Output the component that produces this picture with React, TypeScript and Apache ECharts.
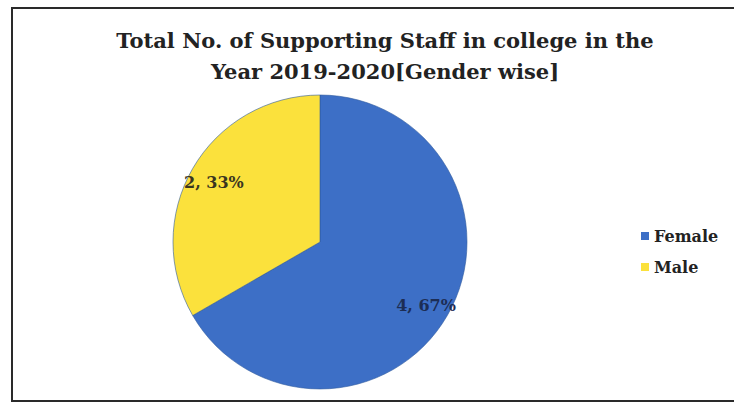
import React, { useEffect, useRef } from "react";
import * as echarts from "echarts";

const categories = ["Female", "Male"];
const counts = [4, 2];
const percents = ["67%", "33%"];
const colors = ["#3d6fc6", "#fbe13c"];
const titleLines = ["Total No. of Supporting Staff in college in the", "Year 2019-2020[Gender wise]"];

export default function App() {
  const ref = useRef<HTMLDivElement>(null);
  useEffect(() => {
    if (!ref.current) return;
    const chart = echarts.init(ref.current, undefined, { renderer: "svg" });
    const data = categories.map((name, i) => ({
      name,
      value: counts[i],
      itemStyle: { color: colors[i] },
    }));
    const labelData = categories.map((name, i) => ({
      name,
      value: counts[i],
      label: {
        formatter: `${counts[i]}, ${percents[i]}`,
        color: i === 0 ? "#1c2d55" : "#3a3520",
      },
    }));
    chart.setOption({
      animation: false,
      backgroundColor: "#ffffff",
      title: {
        text: titleLines.join("\n"),
        left: 380,
        top: 20,
        textAlign: "center",
        textStyle: {
          fontFamily: "DejaVu Serif",
          fontWeight: "bold",
          fontSize: 21,
          lineHeight: 31,
          color: "#222222",
        },
      },
      legend: {
        orient: "vertical",
        left: 636,
        top: 223,
        itemWidth: 8,
        itemHeight: 8,
        itemGap: 15,
        icon: "rect",
        data: categories.map((name, i) => ({
          name,
          itemStyle: { color: colors[i], borderWidth: 0 },
        })),
        textStyle: {
          fontFamily: "DejaVu Serif",
          fontWeight: "bold",
          fontSize: 16,
          color: "#222222",
        },
        selectedMode: false,
      },
      graphic: [
        {
          type: "rect",
          shape: { x: 12, y: 8, width: 740, height: 393 },
          style: { fill: "none", stroke: "#2a2a2a", lineWidth: 2 },
          silent: true,
        },
      ],
      series: [
        {
          type: "pie",
          center: [320, 242],
          radius: 147,
          startAngle: 90,
          clockwise: true,
          silent: true,
          label: { show: false },
          labelLine: { show: false },
          itemStyle: { borderColor: "#2f5a9e", borderWidth: 0.6 },
          data,
        },
        {
          type: "pie",
          center: [320, 244],
          radius: [92, 147],
          startAngle: 90,
          clockwise: true,
          silent: true,
          itemStyle: { color: "rgba(0,0,0,0)" },
          label: {
            show: true,
            position: "inside",
            fontFamily: "DejaVu Serif",
            fontWeight: "bold",
            fontSize: 16,
          },
          labelLine: { show: false },
          data: labelData,
        },
      ],
    });
    return () => chart.dispose();
  }, []);
  return (
    <div
      ref={ref}
      style={{ position: "fixed", left: 0, top: 0, width: 734, height: 410 }}
    />
  );
}
